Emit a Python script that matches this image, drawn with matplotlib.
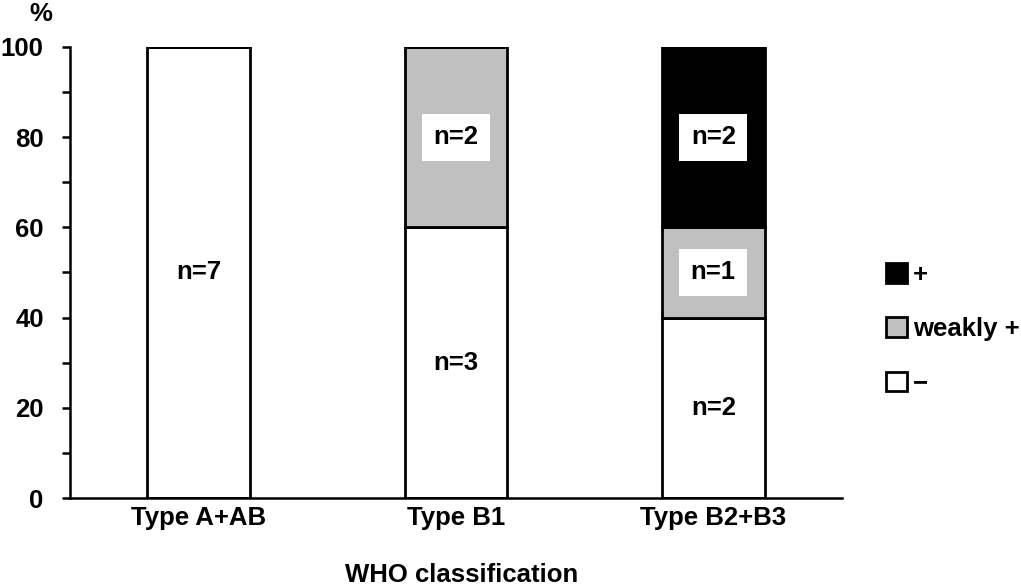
import matplotlib
matplotlib.use("Agg")
import matplotlib.pyplot as plt
from matplotlib.patches import Patch
import numpy as np

plt.rcParams['font.family'] = ['Liberation Sans', 'DejaVu Sans']
plt.rcParams['font.weight'] = 'bold'

categories = ["Type A+AB", "Type B1", "Type B2+B3"]
neg_pct = [100, 60, 40]
weak_pct = [0, 40, 20]
pos_pct = [0, 0, 40]
neg_n = ["n=7", "n=3", "n=2"]
weak_n = ["", "n=2", "n=1"]
pos_n = ["", "", "n=2"]
series_labels = ["+", "weakly +", "\u2212"]
colors = {"pos": "#000000", "weak": "#c0c0c0", "neg": "#ffffff"}

fig = plt.figure(figsize=(10.21, 5.86), dpi=100)
ax = fig.add_axes([0.0686, 0.150, 0.756, 0.770])

x = np.arange(len(categories))
w = 0.4
neg = np.array(neg_pct)
weak = np.array(weak_pct)
pos = np.array(pos_pct)
lw = 2.0
ax.bar(x, neg, w, color=colors["neg"], edgecolor="black", linewidth=lw, zorder=2)
ax.bar(x, weak, w, bottom=neg, color=colors["weak"], edgecolor="black", linewidth=lw, zorder=2)
ax.bar(x, pos, w, bottom=neg + weak, color=colors["pos"], edgecolor="black", linewidth=lw, zorder=2)

fs = 18.5
box = dict(boxstyle="square,pad=0.45", facecolor="white", edgecolor="none")
for i in range(len(categories)):
    for val, bot, lab in [(neg[i], 0, neg_n[i]), (weak[i], neg[i], weak_n[i]), (pos[i], neg[i] + weak[i], pos_n[i])]:
        if val > 0 and lab:
            ax.text(x[i], bot + val / 2, lab, ha="center", va="center", fontsize=fs,
                    fontweight="bold", bbox=box, zorder=3)

ax.set_xlim(-0.5, 2.5)
ax.set_ylim(0, 100)
ax.set_yticks(np.arange(0, 101, 20))
ax.set_yticks(np.arange(0, 101, 10), minor=True)
ax.tick_params(axis='y', which='both', direction='out', length=6, width=1.8, labelsize=fs, pad=13)
ax.set_xticks(x)
ax.set_xticklabels(categories)
ax.tick_params(axis='x', length=0, labelsize=fs, pad=6)
for lbl in ax.get_xticklabels() + ax.get_yticklabels():
    lbl.set_fontweight("bold")
for s in ["top", "right"]:
    ax.spines[s].set_visible(False)
for s in ["left", "bottom"]:
    ax.spines[s].set_linewidth(1.8)

fig.text(0.4525, 0.0068, "WHO classification", fontsize=fs, fontweight="bold",
         ha="center", va="baseline")
fig.text(0.040, 0.976, "%", fontsize=fs, fontweight="bold", ha="center", va="center")

handles = [Patch(facecolor=colors["pos"], edgecolor="black", linewidth=2.0),
           Patch(facecolor=colors["weak"], edgecolor="black", linewidth=2.0),
           Patch(facecolor=colors["neg"], edgecolor="black", linewidth=2.0)]
leg = fig.legend(handles, series_labels, loc="center left", bbox_to_anchor=(0.868, 0.4386),
                 frameon=False, fontsize=fs, handlelength=0.8, handleheight=0.8,
                 handletextpad=0.25, labelspacing=1.18, borderpad=0, borderaxespad=0)
for t in leg.get_texts():
    t.set_fontweight("bold")

fig.savefig("out.png", dpi=100)
